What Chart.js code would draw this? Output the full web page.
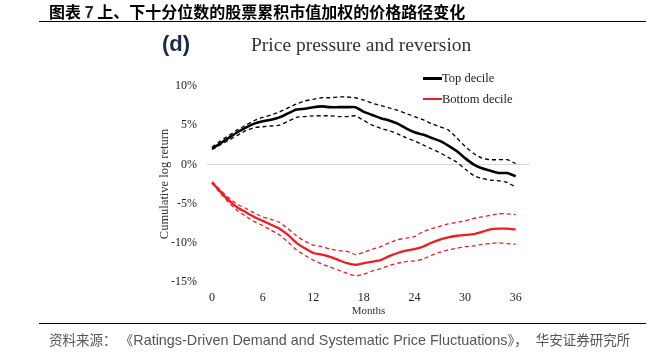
<!DOCTYPE html>
<html><head><meta charset="utf-8">
<script src="https://cdn.jsdelivr.net/npm/chart.js@4.4.1/dist/chart.umd.min.js"></script>
<style>
html,body{margin:0;padding:0;background:#fff;}
#wrap{position:relative;width:666px;height:362px;overflow:hidden;}
canvas{position:absolute;left:0;top:0;}
.abs{position:absolute;white-space:nowrap;}
#title{left:49px;top:1px;font:bold 16px "Noto Sans CJK SC",sans-serif;color:#000;line-height:20px;}
#title .n{font-family:"Liberation Sans",Arial,sans-serif;color:#1a2440;}
#hr1{left:39px;top:21px;width:607px;height:0;border-top:1.5px solid #000;}
#hr2{left:39px;top:323px;width:607px;height:0;border-top:1.5px solid #000;}
#src{left:49px;top:330px;font-size:13.5px;color:#555;line-height:18px;}
#src .c{font-family:"Noto Sans CJK SC",sans-serif;}
#src .l{font-family:"Liberation Sans",Arial,sans-serif;font-size:14.4px;}
#dlab{left:162px;top:31px;font:bold 22px "Liberation Sans",Arial,sans-serif;color:#1c2a48;line-height:26px;}
#ctitle{left:251px;top:33px;font:19.5px "Liberation Serif","Times New Roman",serif;color:#333;line-height:24px;}
.leg{font:12.5px "Liberation Serif","Times New Roman",serif;color:#222;line-height:16px;}
.sw{position:absolute;width:19px;}
</style></head>
<body><div id="wrap">
<canvas id="c" width="666" height="362"></canvas>
<div id="title" class="abs">图表 <span class="n">7</span> 上、下十分位数的股票累积市值加权的价格路径变化</div>
<div id="hr1" class="abs"></div>
<div id="dlab" class="abs">(d)</div>
<div id="ctitle" class="abs">Price pressure and reversion</div>
<div id="legend"></div>
<div id="hr2" class="abs"></div>
<div id="src" class="abs"><span class="c">资料来源：</span><span class="c" style="margin-left:10px">《</span><span class="l">Ratings-Driven Demand and Systematic Price Fluctuations</span><span class="c">》，</span><span class="c" style="margin-left:8px">华安证券研究所</span></div>
</div>
<script>
const months = [0,1,2,3,4,5,6,7,8,9,10,11,12,13,14,15,16,17,18,19,20,21,22,23,24,25,26,27,28,29,30,31,32,33,34,35,36];
const xTicks = [0,6,12,18,24,30,36];
const yTicks = [-15,-10,-5,0,5,10];
const seriesNames = ['Top decile','Bottom decile'];

const topMean  = [2.0,2.7,3.4,4.1,4.7,5.2,5.5,5.7,6.0,6.5,7.0,7.1,7.3,7.4,7.3,7.3,7.3,7.3,6.7,6.3,5.9,5.6,5.2,4.6,4.1,3.8,3.4,3.0,2.4,1.7,0.8,0.0,-0.5,-0.8,-1.1,-1.1,-1.5];
const topUpper = [2.2,3.0,3.7,4.4,5.0,5.6,6.0,6.3,6.7,7.2,7.7,8.1,8.3,8.5,8.5,8.6,8.6,8.5,8.2,7.8,7.5,7.2,6.9,6.5,6.1,5.7,5.2,4.8,4.4,3.4,2.3,1.4,0.8,0.6,0.6,0.6,0.1];
const topLower = [1.9,2.5,3.1,3.7,4.3,4.7,4.8,4.9,5.0,5.5,6.0,6.1,6.2,6.2,6.2,6.1,6.1,6.2,5.6,5.0,4.6,4.3,3.9,3.4,3.0,2.5,2.0,1.5,0.9,0.3,-0.6,-1.4,-1.8,-2.0,-2.1,-2.3,-2.9];

const botMean  = [-2.3,-3.5,-4.6,-5.5,-6.1,-6.7,-7.2,-7.7,-8.2,-9.0,-10.0,-10.7,-11.3,-11.5,-11.8,-12.2,-12.6,-12.8,-12.6,-12.4,-12.2,-11.7,-11.3,-11.0,-10.8,-10.5,-10.0,-9.6,-9.3,-9.1,-9.0,-8.9,-8.6,-8.3,-8.2,-8.2,-8.3];
const botUpper = [-2.2,-3.3,-4.3,-5.1,-5.6,-6.2,-6.7,-7.0,-7.4,-8.2,-9.1,-9.8,-10.3,-10.5,-10.8,-11.0,-11.1,-11.5,-11.2,-10.8,-10.5,-10.0,-9.6,-9.4,-9.2,-8.6,-8.2,-7.9,-7.6,-7.4,-7.2,-6.9,-6.7,-6.5,-6.3,-6.3,-6.4];
const botLower = [-2.4,-3.7,-4.9,-5.9,-6.6,-7.3,-7.8,-8.4,-9.0,-9.9,-10.9,-11.6,-12.2,-12.7,-13.1,-13.5,-13.9,-14.2,-14.0,-13.6,-13.3,-12.9,-12.6,-12.4,-12.3,-12.1,-11.6,-11.2,-10.9,-10.7,-10.5,-10.4,-10.2,-10.1,-10.0,-10.1,-10.2];

const BLACK = '#000000', RED = '#ee1c25';
const pts = arr => months.map((m,i)=>({x:m,y:arr[i]}));
const base = {pointRadius:0,pointHoverRadius:0,tension:0.15,fill:false};
const datasets = [
  Object.assign({label:seriesNames[0],data:pts(topMean),borderColor:BLACK,borderWidth:2.6},base),
  Object.assign({label:seriesNames[0]+' upper',data:pts(topUpper),borderColor:BLACK,borderWidth:1.3,borderDash:[4,3]},base),
  Object.assign({label:seriesNames[0]+' lower',data:pts(topLower),borderColor:BLACK,borderWidth:1.3,borderDash:[4,3]},base),
  Object.assign({label:seriesNames[1],data:pts(botMean),borderColor:RED,borderWidth:2.3},base),
  Object.assign({label:seriesNames[1]+' upper',data:pts(botUpper),borderColor:RED,borderWidth:1.3,borderDash:[4,3]},base),
  Object.assign({label:seriesNames[1]+' lower',data:pts(botLower),borderColor:RED,borderWidth:1.3,borderDash:[4,3]},base)
];

// HTML legend built from the series names
const legColors=[BLACK,RED], legTops=[70,91], swH=[3,2.2];
const lg=document.getElementById('legend');
seriesNames.forEach((n,i)=>{
  const sw=document.createElement('div');sw.className='sw';
  sw.style.left='423px';sw.style.top=(legTops[i]+8-swH[i]/2)+'px';sw.style.height=swH[i]+'px';sw.style.background=legColors[i];
  lg.appendChild(sw);
  const t=document.createElement('div');t.className='abs leg';t.textContent=n;
  t.style.left='442px';t.style.top=legTops[i]+'px';lg.appendChild(t);
});

const serif = '"Liberation Serif","Times New Roman",serif';
new Chart(document.getElementById('c'),{
  type:'line',
  data:{datasets},
  options:{
    responsive:false,animation:false,
    layout:{padding:{left:150,right:136,top:86,bottom:40}},
    plugins:{legend:{display:false},tooltip:{enabled:false}},
    scales:{
      x:{type:'linear',min:-0.6,max:37.7,
        afterBuildTicks:s=>{s.ticks=xTicks.map(v=>({value:v}));},
        afterFit:s=>{s.height=40;},
        grid:{display:false,drawTicks:false},border:{display:false},
        ticks:{font:{family:serif,size:12},color:'#222',padding:9,maxRotation:0},
        title:{display:true,text:'Months',font:{family:serif,size:11},color:'#333',padding:{top:2,bottom:4}}},
      y:{min:-15,max:10,
        afterBuildTicks:s=>{s.ticks=yTicks.map(v=>({value:v}));},
        afterFit:s=>{s.width=57;},
        grid:{color:c=>c.tick&&c.tick.value===0?'#d9d9d9':'rgba(0,0,0,0)',drawTicks:false,lineWidth:1},
        border:{display:false},
        ticks:{font:{family:serif,size:12},color:'#222',padding:10,callback:v=>v+'%'},
        title:{display:true,text:'Cumulative log return',font:{family:serif,size:12.5},color:'#333',padding:{top:7,bottom:2}}}
    }
  }
});
</script>
</body></html>
